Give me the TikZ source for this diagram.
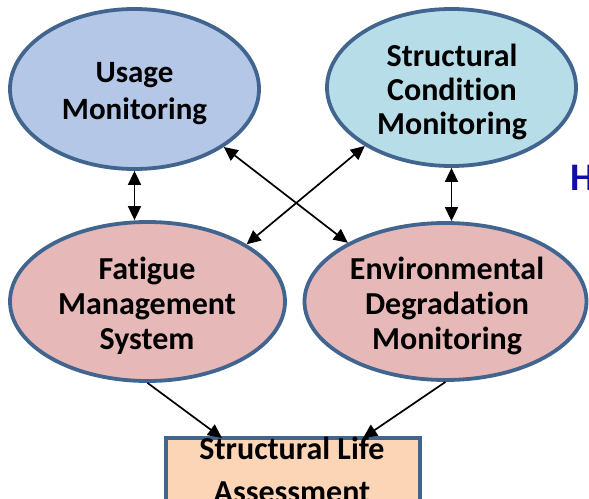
\documentclass[tikz,border=0pt]{standalone}
\usepackage{fontspec}
\setmainfont{Carlito}[Ligatures=CommonOff]
\usetikzlibrary{shapes.geometric,arrows.meta}
\definecolor{edgeblue}{HTML}{41658F}
\definecolor{usagefill}{HTML}{B4C7E7}
\definecolor{condfill}{HTML}{B7DEE8}
\definecolor{pinkfill}{HTML}{E6B9B8}
\definecolor{peachfill}{HTML}{FBD5B5}
\definecolor{titleblue}{HTML}{1010A0}
\tikzset{
  oval/.style={ellipse, draw=edgeblue, line width=3.8pt, inner sep=0pt},
  ovaltext/.style={align=center, inner sep=0pt, font=\fontsize{32}{35}\selectfont\bfseries},
  lifebox/.style={rectangle, draw=edgeblue, line width=3.8pt, fill=peachfill, inner sep=0pt},
  link/.style={line width=1.7pt, -{Triangle[length=14pt,width=13pt]}},
  dlink/.style={line width=1.7pt, {Triangle[length=14pt,width=13pt]}-{Triangle[length=14pt,width=13pt]}}
}
\begin{document}
\begin{tikzpicture}[x=1pt,y=-1pt]
\useasboundingbox (0,0) rectangle (589,498);
\clip (0,0) rectangle (589,498);

% the four monitoring / management ovals
\node[oval, fill=usagefill, minimum width=249pt, minimum height=160pt] (um) at (134.5,89) {};
\node[oval, fill=condfill, minimum width=249pt, minimum height=157pt] (scm) at (451.5,87.5) {};
\node[oval, fill=pinkfill, minimum width=275pt, minimum height=159pt] (fms) at (147.5,301.5) {};
\node[oval, fill=pinkfill, minimum width=282pt, minimum height=157pt] (edm) at (445.5,301.5) {};

\node[ovaltext, font=\fontsize{31}{37}\selectfont\bfseries] (umt) at (134.5,94) {Usage\\Monitoring};
\node[ovaltext, font=\fontsize{32}{34}\selectfont\bfseries] (scmt) at (452,92) {Structural\\Condition\\Monitoring};
\node[ovaltext] (fmst) at (147,306) {Fatigue\\Management\\System};
\node[ovaltext] (edmt) at (447,306) {Environmental\\Degradation\\Monitoring};

% the assessment box at the bottom
\node[lifebox, minimum width=254pt, minimum height=110pt, anchor=north] (sla) at (293,436) {};
\node[align=center, inner sep=0pt, font=\fontsize{32}{43}\selectfont\bfseries] (slat) at (292,470) {Structural Life\\Assessment};

% partly visible heading letter at the right edge
\node[font=\fontsize{39}{42}\selectfont\bfseries, text=titleblue, anchor=base west, inner sep=0pt] (hd) at (570,190) {H};

% connectors
\draw[dlink] (um.south) -- (um.south |- fms.north);
\draw[dlink] (scm.south) -- (scm.south |- edm.north);
\draw[dlink] (um.-33.2) -- (edm.149.3);
\draw[dlink] (scm.-146.1) -- (fms.30.5);
\coordinate (slaL) at ([xshift=-71pt,yshift=-2pt]sla.north);
\coordinate (slaR) at ([xshift=70pt,yshift=-2pt]sla.north);
\draw[link] (fms.south) -- (slaL);
\draw[link] (edm.south) -- (slaR);
\end{tikzpicture}
\end{document}
